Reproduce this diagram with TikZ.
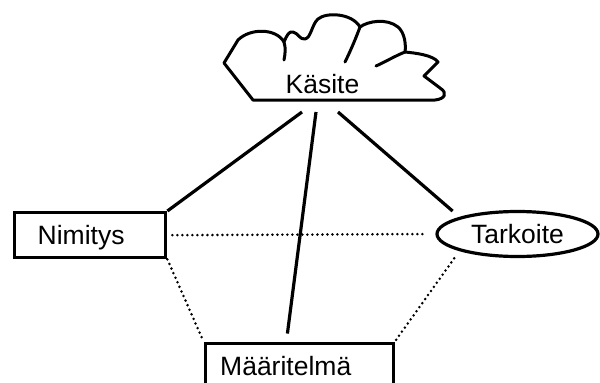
\documentclass[tikz,border=0pt]{standalone}
\usepackage{fontspec}
\setmainfont{Liberation Sans}
\usetikzlibrary{shapes.geometric,calc}
\begin{document}
\begin{tikzpicture}[x=1pt,y=-1pt,
  lbl/.style={font=\fontsize{26.5}{30}\selectfont, text height=19pt, text depth=0pt},
  boxnode/.style={lbl, draw, line width=3.4pt, rectangle, inner ysep=0pt, minimum height=45pt, align=left, anchor=north west},
  ellnode/.style={lbl, draw, line width=3.2pt, ellipse, inner sep=0pt, minimum width=161pt, minimum height=45pt},
  solidconn/.style={line width=3.2pt},
  dotconn/.style={line width=2.8pt, line cap=round, dash pattern=on 0pt off 5pt},
  cloudline/.style={line width=3pt, line cap=round, line join=round}]
\useasboundingbox (0,0) rectangle (600,383);
\clip (0,0) rectangle (600,383);

% cloud
\draw[cloudline] (253,100) -- (224,63) -- (238,40)
  .. controls (250,28) and (276,28) .. (284,42)
  .. controls (287,35) and (289,31) .. (293,32)
  .. controls (298,33) and (300,40) .. (305,39)
  .. controls (311,38) and (312,24) .. (318,19)
  .. controls (326,12) and (352,13) .. (360,27)
  .. controls (368,21) and (387,18) .. (398,27)
  .. controls (405,33) and (406,45) .. (405,52)
  .. controls (415,53) and (433,55) .. (438,62)
  -- (424,76) -- (440,88)
  .. controls (448,93) and (445,99) .. (435,100) -- cycle;
\draw[cloudline] (284,42) .. controls (286,48) and (285,55) .. (284,60);
\draw[cloudline] (360,27) .. controls (356,38) and (350,52) .. (345,62);
\draw[cloudline] (405,52) .. controls (395,56) and (385,62) .. (376,66);

\node[lbl, inner sep=0pt] (kas) at (322.5,83.5) {Käsite};
\coordinate (c1) at (302,112);
\coordinate (c2) at (316,112);
\coordinate (c3) at (338,112);

\node[boxnode, text width=105pt, inner xsep=23pt] (nim) at (13,211) {Nimitys};
\node[ellnode] (tar) at (517.5,234) {Tarkoite};
\node[boxnode, text width=158pt, inner xsep=15pt, minimum height=46pt] (maa) at (203.5,341.5) {Määritelmä};

% solid connectors
\draw[solidconn] (c1) -- (nim.north east);
\draw[solidconn, shorten >=8pt] (c2) -- ($(maa.north west)!0.433!(maa.north east)$);
\draw[solidconn, shorten >=9pt] (c3) -- (tar.north west);

% dotted connectors
\draw[dotconn, shorten <=5pt, shorten >=9pt] (nim.east) -- (tar.west);
\draw[dotconn] (nim.south east) -- (maa.north west);
\draw[dotconn, shorten <=9pt] (tar.south west) -- (maa.north east);
\end{tikzpicture}
\end{document}
